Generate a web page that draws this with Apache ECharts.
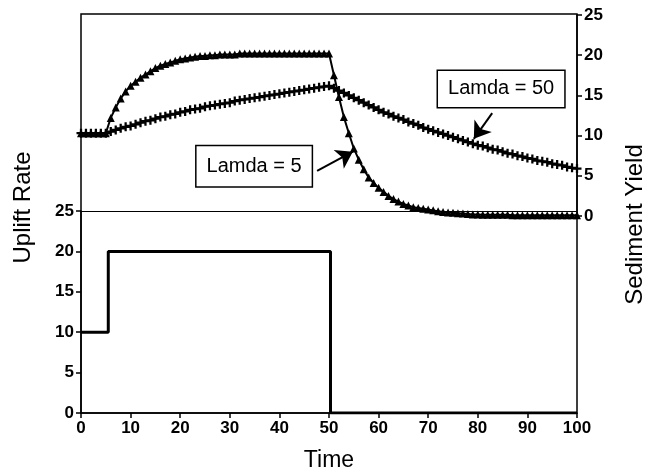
<!DOCTYPE html>
<html><head><meta charset="utf-8">
<script src="https://cdn.jsdelivr.net/npm/echarts@6/dist/echarts.min.js"></script>
<style>html,body{margin:0;padding:0;background:#fff}#c{width:650px;height:468px}</style>
</head><body><div id="c"></div>
<script>
// ---- data ----
const time = [0,1,2,3,4,5,6,7,8,9,10,11,12,13,14,15,16,17,18,19,20,21,22,23,24,25,26,27,28,29,30,
  31,32,33,34,35,36,37,38,39,40,41,42,43,44,45,46,47,48,49,50,51,52,53,54,55,56,57,58,59,60,
  61,62,63,64,65,66,67,68,69,70,71,72,73,74,75,76,77,78,79,80,81,82,83,84,85,86,87,88,89,90,
  91,92,93,94,95,96,97,98,99,100];
const lamda5 = [10.3,10.3,10.3,10.3,10.3,10.3,
  12.2,13.5,14.6,15.5,16.2, 16.7,17.2,17.6,18.0,18.4, 18.7,18.9,19.1,19.3,19.5,
  19.6,19.7,19.8,19.9,19.9, 20.0,20.0,20.1,20.1,20.1, 20.1,20.2,20.2,20.2,20.2,
  20.2,20.2,20.2,20.2,20.2, 20.2,20.2,20.2,20.2,20.2, 20.2,20.2,20.2,20.2,20.2,
  17.5,14.8,12.3,10.3,8.4, 7.0,5.8,4.8,4.1,3.5, 3.0,2.5,2.1,1.8,1.5,
  1.3,1.1,1.0,0.9,0.8, 0.7,0.6,0.5,0.45,0.4, 0.35,0.3,0.25,0.2,0.2,
  0.15,0.15,0.15,0.15,0.15, 0.15,0.1,0.1,0.1,0.1, 0.1,0.1,0.1,0.1,0.1, 0.1,0.1,0.1,0.1,0.1];
const lamda50 = [10.3,10.3,10.3,10.3,10.3,10.3,
  10.5,10.7,10.9,11.1,11.2, 11.4,11.6,11.8,11.9,12.1, 12.3,12.4,12.6,12.7,12.9,
  13.0,13.2,13.3,13.4,13.6, 13.7,13.8,13.9,14.0,14.1, 14.3,14.4,14.5,14.6,14.7,
  14.8,14.9,15.0,15.1,15.2, 15.3,15.4,15.5,15.6,15.7, 15.8,15.9,16.0,16.1,16.2,
  15.9,15.6,15.3,15.0,14.7, 14.4,14.1,13.8,13.5,13.2, 12.9,12.7,12.4,12.2,12.0,
  11.7,11.5,11.3,11.0,10.8, 10.6,10.4,10.2,10.0,9.8, 9.6,9.4,9.2,9.0,8.8,
  8.7,8.5,8.3,8.2,8.0, 7.8,7.7,7.5,7.4,7.2, 7.1,6.9,6.8,6.7,6.5, 6.4,6.3,6.1,6.0,5.9];
const upliftTime = [0, 5.5, 50.3, 100];
const upliftRate = [10, 20, 0, 0];
const upliftTop = 25; // panel divider drawn at uplift rate 25

// annotation anchors (data coordinates: [time, sediment yield])
const note50Box = [84.7, 15.8], note50From = [82.9, 12.8], note50To = [79.2, 9.6];
const note5Box = [34.9, 6.2], note5From = [47.6, 5.6], note5To = [54.8, 8.0];

const font = "'Liberation Sans', Arial, Helvetica, sans-serif";
const L = 81, R = 73;
function tickLbl() { return {color: '#000', fontSize: 17, fontWeight: 'bold', fontFamily: font, margin: 7}; }
function axLine() { return {show: true, onZero: false, lineStyle: {color: '#000', width: 1.5}}; }
function axTick() { return {show: true, length: 5, lineStyle: {color: '#000', width: 1.5}}; }
function noAxis() { return {show: false, onZero: false}; }

const plusPath = 'path://M3,0H5V3H8V5H5V8H3V5H0V3H3Z';

function boxPoint(coord, text, padV, padH) {
  return {
    silent: true, symbol: 'rect', symbolSize: 1,
    itemStyle: {color: 'rgba(0,0,0,0)'},
    label: {show: true, position: 'inside', color: '#000', fontSize: 20, fontFamily: font,
            formatter: text, backgroundColor: '#fff', borderColor: '#000', borderWidth: 1.5,
            padding: [padV, padH, padV - 2, padH]},
    data: [{coord: coord}]
  };
}
function arrow(from, to) {
  return {
    silent: true, animation: false, symbol: ['none', 'arrow'], symbolSize: 16,
    lineStyle: {color: '#000', width: 2, type: 'solid'}, label: {show: false},
    data: [[{coord: from}, {coord: to}]]
  };
}

const chart = echarts.init(document.getElementById('c'));
chart.setOption({
  animation: false,
  backgroundColor: '#fff',
  textStyle: {fontFamily: font},
  grid: [
    {left: L, right: R, top: 211, bottom: 55, containLabel: false, outerBoundsMode: 'none'},
    {left: L, right: R, top: 15, bottom: 252, containLabel: false, outerBoundsMode: 'none'},
    {left: L, right: R, top: 14, bottom: 55, containLabel: false, outerBoundsMode: 'none',
     show: true, borderColor: '#000', borderWidth: 1.5}
  ],
  xAxis: [
    {gridIndex: 0, type: 'value', min: 0, max: 100, interval: 10,
     name: 'Time', nameLocation: 'middle', nameGap: 36,
     nameTextStyle: {color: '#000', fontSize: 23, fontFamily: font},
     axisLine: axLine(), axisTick: axTick(), axisLabel: tickLbl(), splitLine: {show: false}},
    {gridIndex: 1, type: 'value', min: 0, max: 100, show: false, axisLine: noAxis()},
    {gridIndex: 2, type: 'value', min: 0, max: 100, show: false, axisLine: noAxis()}
  ],
  yAxis: [
    {gridIndex: 0, type: 'value', min: 0, max: 25, interval: 5, position: 'left',
     axisLine: axLine(), axisTick: axTick(), axisLabel: tickLbl(), splitLine: {show: false}},
    {gridIndex: 1, type: 'value', min: 0, max: 25, interval: 5, position: 'right',
     axisLine: axLine(), axisTick: axTick(), axisLabel: tickLbl(), splitLine: {show: false}},
    {gridIndex: 2, type: 'value', min: 0, max: 1, interval: 1, position: 'left',
     name: 'Uplift Rate', nameLocation: 'middle', nameGap: 46,
     nameTextStyle: {color: '#000', fontSize: 24, fontFamily: font, padding: [0, 0, 0, 12]},
     axisLine: noAxis(), axisTick: {show: false}, axisLabel: {show: false}, splitLine: {show: false}},
    {gridIndex: 2, type: 'value', min: 0, max: 1, interval: 1, position: 'right',
     name: 'Sediment Yield', nameLocation: 'middle', nameGap: 46,
     nameTextStyle: {color: '#000', fontSize: 24, fontFamily: font, padding: [0, 22, 0, 0]},
     axisLine: noAxis(), axisTick: {show: false}, axisLabel: {show: false}, splitLine: {show: false}}
  ],
  series: [
    {name: 'Uplift Rate', type: 'line', xAxisIndex: 0, yAxisIndex: 0, step: 'end',
     symbol: 'none', lineStyle: {color: '#000', width: 3},
     data: upliftTime.map((t, i) => [t, upliftRate[i]]),
     markLine: {silent: true, animation: false, symbol: 'none', label: {show: false},
                lineStyle: {color: '#000', width: 1.2, type: 'solid'},
                data: [{yAxis: upliftTop}]}},
    {name: 'Lamda = 5', type: 'line', xAxisIndex: 1, yAxisIndex: 1,
     symbol: 'triangle', symbolSize: 8, itemStyle: {color: '#000'},
     lineStyle: {color: '#000', width: 2},
     data: time.map((t, i) => [t, lamda5[i]]),
     markPoint: boxPoint(note5Box, 'Lamda = 5', 11, 10),
     markLine: arrow(note5From, note5To)},
    {name: 'Lamda = 50', type: 'line', xAxisIndex: 1, yAxisIndex: 1,
     symbol: plusPath, symbolSize: 9, itemStyle: {color: '#000'},
     lineStyle: {color: '#000', width: 2},
     data: time.map((t, i) => [t, lamda50[i]]),
     markPoint: boxPoint(note50Box, 'Lamda = 50', 9, 10),
     markLine: arrow(note50From, note50To)}
  ]
});
</script>
</body></html>
